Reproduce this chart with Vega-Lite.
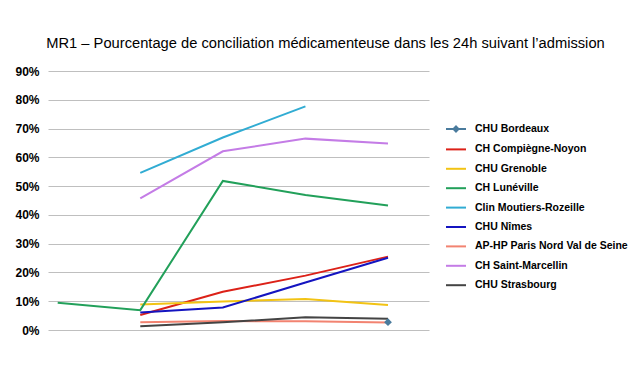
{
  "$schema": "https://vega.github.io/schema/vega-lite/v6.json",
  "width": 381,
  "height": 259,
  "autosize": {"type": "none"},
  "padding": {"left": 48, "top": 71, "right": 211, "bottom": 41},
  "background": "white",
  "config": {"font": "Liberation Sans", "view": {"stroke": null}},
  "title": {
    "text": "MR1 – Pourcentage de conciliation médicamenteuse dans les 24h suivant l’admission",
    "font": "Liberation Sans",
    "fontSize": 14.7,
    "fontWeight": "normal",
    "color": "black",
    "anchor": "middle",
    "frame": "group",
    "dx": 87,
    "offset": 14
  },
  "data": {
    "values": [
      {"etab": "CHU Bordeaux", "t": 5, "v": 2.7},
      {"etab": "CH Compiègne-Noyon", "t": 2, "v": 5.2},
      {"etab": "CH Compiègne-Noyon", "t": 3, "v": 13.3},
      {"etab": "CH Compiègne-Noyon", "t": 4, "v": 18.9},
      {"etab": "CH Compiègne-Noyon", "t": 5, "v": 25.5},
      {"etab": "CHU Grenoble", "t": 2, "v": 8.9},
      {"etab": "CHU Grenoble", "t": 3, "v": 9.9},
      {"etab": "CHU Grenoble", "t": 4, "v": 10.8},
      {"etab": "CHU Grenoble", "t": 5, "v": 8.7},
      {"etab": "CH Lunéville", "t": 1, "v": 9.5},
      {"etab": "CH Lunéville", "t": 2, "v": 6.9},
      {"etab": "CH Lunéville", "t": 3, "v": 51.8},
      {"etab": "CH Lunéville", "t": 4, "v": 46.9},
      {"etab": "CH Lunéville", "t": 5, "v": 43.3},
      {"etab": "Clin Moutiers-Rozeille", "t": 2, "v": 54.6},
      {"etab": "Clin Moutiers-Rozeille", "t": 3, "v": 66.9},
      {"etab": "Clin Moutiers-Rozeille", "t": 4, "v": 77.7},
      {"etab": "CHU Nîmes", "t": 2, "v": 6.1},
      {"etab": "CHU Nîmes", "t": 3, "v": 7.8},
      {"etab": "CHU Nîmes", "t": 4, "v": 16.5},
      {"etab": "CHU Nîmes", "t": 5, "v": 25.1},
      {"etab": "AP-HP Paris Nord Val de Seine", "t": 2, "v": 2.7},
      {"etab": "AP-HP Paris Nord Val de Seine", "t": 3, "v": 3.1},
      {"etab": "AP-HP Paris Nord Val de Seine", "t": 4, "v": 3.0},
      {"etab": "AP-HP Paris Nord Val de Seine", "t": 5, "v": 2.6},
      {"etab": "CH Saint-Marcellin", "t": 2, "v": 45.7},
      {"etab": "CH Saint-Marcellin", "t": 3, "v": 62.1},
      {"etab": "CH Saint-Marcellin", "t": 4, "v": 66.5},
      {"etab": "CH Saint-Marcellin", "t": 5, "v": 64.8},
      {"etab": "CHU Strasbourg", "t": 2, "v": 1.3},
      {"etab": "CHU Strasbourg", "t": 3, "v": 2.7},
      {"etab": "CHU Strasbourg", "t": 4, "v": 4.4},
      {"etab": "CHU Strasbourg", "t": 5, "v": 3.9}
    ]
  },
  "encoding": {
    "x": {"field": "t", "type": "quantitative", "scale": {"domain": [0.8825, 5.4965], "nice": false, "zero": false}, "axis": null},
    "y": {
      "field": "v", "type": "quantitative",
      "scale": {"domain": [0, 90], "nice": false},
      "axis": {
        "values": [0, 10, 20, 30, 40, 50, 60, 70, 80, 90],
        "labelExpr": "datum.value + '%'",
        "labelFontSize": 12,
        "labelFontWeight": "bold",
        "labelColor": "black",
        "labelPadding": 9,
        "ticks": false,
        "domain": false,
        "gridColor": "#bfbfbf",
        "gridWidth": 1,
        "title": null
      }
    },
    "color": {
      "field": "etab", "type": "nominal",
      "scale": {
        "domain": ["CHU Bordeaux", "CH Compiègne-Noyon", "CHU Grenoble", "CH Lunéville", "Clin Moutiers-Rozeille", "CHU Nîmes", "AP-HP Paris Nord Val de Seine", "CH Saint-Marcellin", "CHU Strasbourg"],
        "range": ["#4a7b9d", "#dc2118", "#f2c314", "#22a05a", "#31acd3", "#1414c0", "#f28371", "#c47ce6", "#444444"]
      },
      "legend": {
        "title": null,
        "orient": "none",
        "legendX": 397,
        "legendY": 47,
        "symbolType": "stroke",
        "symbolSize": 400,
        "symbolStrokeWidth": 2,
        "labelFontSize": 10.5,
        "labelFontWeight": "bold",
        "labelColor": "black",
        "labelOffset": 8,
        "rowPadding": 2.4,
        "labelLimit": 300,
        "encode": {
          "symbols": {
            "update": {
              "shape": {"signal": "datum.value === 'CHU Bordeaux' ? 'M-1,0H1M0,-0.25L0.25,0L0,0.25L-0.25,0Z' : 'stroke'"},
              "fill": {"signal": "datum.value === 'CHU Bordeaux' ? '#4a7b9d' : 'transparent'"}
            }
          }
        }
      }
    }
  },
  "layer": [
    {"mark": {"type": "line", "strokeWidth": 2}},
    {
      "transform": [{"filter": "datum.etab === 'CHU Bordeaux'"}],
      "mark": {"type": "point", "shape": "diamond", "filled": true, "size": 60, "opacity": 1}
    }
  ]
}
